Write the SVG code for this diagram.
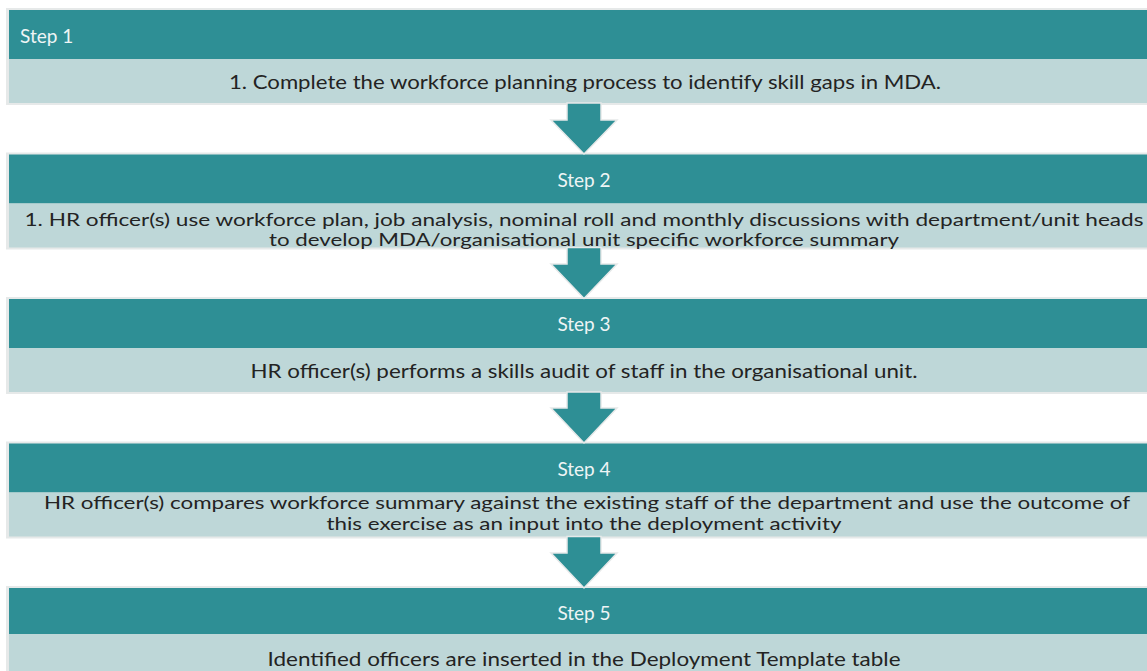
<svg xmlns="http://www.w3.org/2000/svg" width="1147" height="671" viewBox="0 0 1147 671">
  <style>
    .frame { fill: #e6e9e9; }
    .head { fill: #2e8f95; }
    .body { fill: #bed7d8; }
    .htxt { font-family: Lato, "Open Sans", sans-serif; font-size: 19px; fill: #eef5f5; }
    .btxt { font-family: Lato, "Open Sans", sans-serif; font-size: 20px; fill: #232323; text-anchor: middle; }
    .btxt2 { font-size: 17px; }
    .arrow { fill: #2e8f95; stroke: #e6e9e9; stroke-width: 1.5; stroke-linejoin: miter; }
  </style>
  <rect width="1147" height="671" fill="#ffffff"/>

  <!-- Step 1 -->
  <g id="step1">
    <rect class="frame" x="6" y="8" width="1160" height="97"/>
    <rect class="head" x="9" y="10" width="1160" height="49"/>
    <rect class="body" x="9" y="59" width="1160" height="44"/>
    <text class="htxt" x="20" y="42.5">Step 1</text>
    <text class="btxt" x="585" y="89" textLength="712" lengthAdjust="spacingAndGlyphs">1. Complete the workforce planning process to identify skill gaps in MDA.</text>
  </g>

  <!-- Step 2 -->
  <g id="step2">
    <rect class="frame" x="6" y="152.5" width="1160" height="97"/>
    <rect class="head" x="9" y="154.5" width="1160" height="49"/>
    <rect class="body" x="9" y="203.5" width="1160" height="44"/>
    <text class="htxt" x="584" y="186.5" text-anchor="middle">Step 2</text>
    <text class="btxt btxt2" x="584" y="226" textLength="1119" lengthAdjust="spacingAndGlyphs">1. HR officer(s)  use workforce plan, job analysis, nominal roll and monthly discussions with department/unit heads</text>
    <text class="btxt btxt2" x="584" y="245.5" textLength="630" lengthAdjust="spacingAndGlyphs">to develop MDA/organisational unit specific workforce summary</text>
  </g>

  <!-- Step 3 -->
  <g id="step3">
    <rect class="frame" x="6" y="297" width="1160" height="97"/>
    <rect class="head" x="9" y="299" width="1160" height="49"/>
    <rect class="body" x="9" y="348" width="1160" height="44"/>
    <text class="htxt" x="584" y="331" text-anchor="middle">Step 3</text>
    <text class="btxt" x="584" y="378" textLength="667" lengthAdjust="spacingAndGlyphs">HR officer(s) performs a skills audit of staff in the organisational unit.</text>
  </g>

  <!-- Step 4 -->
  <g id="step4">
    <rect class="frame" x="6" y="441.5" width="1160" height="97"/>
    <rect class="head" x="9" y="443.5" width="1160" height="49"/>
    <rect class="body" x="9" y="492.5" width="1160" height="44"/>
    <text class="htxt" x="584" y="475.5" text-anchor="middle">Step 4</text>
    <text class="btxt btxt2" x="587" y="509" textLength="1086" lengthAdjust="spacingAndGlyphs">HR officer(s) compares workforce summary against the existing staff of the department and use the outcome of</text>
    <text class="btxt btxt2" x="584" y="530" textLength="515" lengthAdjust="spacingAndGlyphs">this exercise as an input into the deployment activity</text>
  </g>

  <!-- Step 5 -->
  <g id="step5">
    <rect class="frame" x="6" y="586" width="1160" height="97"/>
    <rect class="head" x="9" y="588" width="1160" height="46"/>
    <rect class="body" x="9" y="634" width="1160" height="44"/>
    <text class="htxt" x="584" y="620" text-anchor="middle">Step 5</text>
    <text class="btxt" x="584" y="666" textLength="633" lengthAdjust="spacingAndGlyphs">Identified officers are inserted in the Deployment Template table</text>
  </g>

  <!-- Down arrows between steps -->
  <g id="connectors">
    <path class="arrow" d="M567 103 H601 V120 H617 L584 154 L551 120 H567 Z"/>
    <path class="arrow" d="M567 247.5 H601 V264 H617 L584 298.5 L551 264 H567 Z"/>
    <path class="arrow" d="M567 392 H601 V408 H617 L584 443 L551 408 H567 Z"/>
    <path class="arrow" d="M567 536.5 H601 V553 H617 L584 588 L551 553 H567 Z"/>
  </g>
</svg>
